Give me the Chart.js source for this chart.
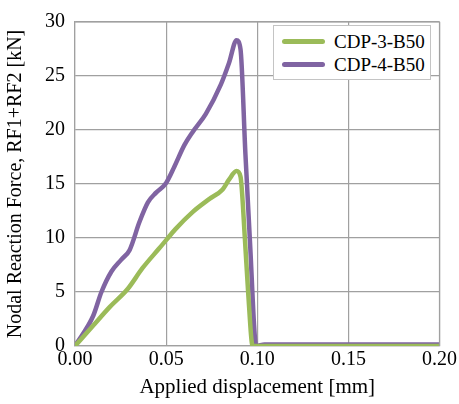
<!DOCTYPE html>
<html>
<head>
<meta charset="utf-8">
<script src="https://cdn.jsdelivr.net/npm/chart.js@4.4.0/dist/chart.umd.min.js"></script>
<style>
    html, body { margin: 0; padding: 0; background: #fff; }
    #wrap { position: relative; width: 459px; height: 404px; }
    #legend {
        position: absolute; left: 273px; top: 25px; width: 158px; height: 55px;
        border: 1.5px solid #c4c4c4; background: #fff;
        font-family: 'Liberation Serif', 'Times New Roman', serif; font-size: 19px; color: #000;
        box-sizing: border-box; padding-top: 4px;
    }
    .row { height: 23px; display: flex; align-items: center; }
    .swatch { width: 43px; height: 5px; border-radius: 3px; margin-left: 8px; margin-right: 9px; }
</style>
</head>
<body>
<div id="wrap">
    <canvas id="chart" width="459" height="404"></canvas>
    <div id="legend"></div>
</div>
<script>
const seriesNames = ['CDP-3-B50', 'CDP-4-B50'];
const seriesColors = ['#9bbb59', '#8064a2'];

// CDP-3-B50
const dispA = [0, 0.010, 0.019, 0.029, 0.037, 0.046, 0.050, 0.055, 0.0645, 0.0736, 0.081, 0.0845, 0.0886, 0.0908, 0.0932, 0.095, 0.0975, 0.12, 0.2];
const forceA = [0, 1.9, 3.6, 5.3, 7.2, 9.0, 9.8, 10.8, 12.4, 13.6, 14.5, 15.4, 16.2, 15.7, 10.0, 5.0, 0, 0, 0];

// CDP-4-B50
const dispB = [0, 0.010, 0.0145, 0.020, 0.0254, 0.030, 0.0354, 0.040, 0.0445, 0.050, 0.0545, 0.060, 0.0645, 0.0718, 0.080, 0.0845, 0.0886, 0.0908, 0.0935, 0.0959, 0.0995, 0.104, 0.2];
const forceB = [0, 2.8, 5.0, 6.9, 8.0, 8.9, 11.5, 13.3, 14.2, 15.1, 16.6, 18.6, 19.8, 21.5, 24.2, 26.2, 28.3, 27.5, 17.8, 10.0, 0, 0.15, 0.15];

const xTicks = [0, 0.05, 0.10, 0.15, 0.20];

function toPoints(xs, ys) {
    return xs.map((x, i) => ({ x: x, y: ys[i] }));
}

const family = "'Liberation Serif', 'Times New Roman', serif";
const gridColor = '#a0a0a0';

function drawChart() {
    const ctx = document.getElementById('chart').getContext('2d');
    new Chart(ctx, {
        type: 'scatter',
        data: {
            datasets: [
                { label: seriesNames[0], data: toPoints(dispA, forceA), borderColor: seriesColors[0], backgroundColor: seriesColors[0] },
                { label: seriesNames[1], data: toPoints(dispB, forceB), borderColor: seriesColors[1], backgroundColor: seriesColors[1] }
            ].map(d => Object.assign(d, { showLine: true, borderWidth: 4.5, pointRadius: 0, cubicInterpolationMode: 'monotone', borderCapStyle: 'round', borderJoinStyle: 'round' }))
        },
        options: {
            responsive: false,
            animation: false,
            font: { family: family },
            layout: { padding: { top: 16, right: 17, left: 0, bottom: 0 } },
            plugins: { legend: { display: false }, tooltip: { enabled: false } },
            scales: {
                x: {
                    type: 'linear', min: 0, max: 0.2,
                    afterBuildTicks: axis => { axis.ticks = xTicks.map(v => ({ value: v })); },
                    afterFit: axis => { axis.height = 58; },
                    ticks: { font: { family: family, size: 20 }, color: '#000', padding: 2, maxRotation: 0, callback: v => v.toFixed(2) },
                    grid: { color: gridColor, lineWidth: 1.2, drawTicks: false },
                    border: { color: gridColor, width: 1.2 },
                    title: { display: true, text: 'Applied displacement [mm]', font: { family: family, size: 21 }, color: '#000', padding: { top: 0 } }
                },
                y: {
                    min: 0, max: 30,
                    afterFit: axis => { axis.width = 75; },
                    ticks: { font: { family: family, size: 20 }, color: '#000', stepSize: 5, padding: 10 },
                    grid: { color: gridColor, lineWidth: 1.2, drawTicks: false },
                    border: { color: gridColor, width: 1.2 },
                    title: { display: true, text: 'Nodal Reaction Force, RF1+RF2 [kN]', font: { family: family, size: 20 }, color: '#000', padding: { bottom: 0 } }
                }
            }
        },
        plugins: [{
            id: 'frame',
            afterDraw(chart) {
                const a = chart.chartArea, c = chart.ctx;
                c.save();
                c.strokeStyle = gridColor;
                c.lineWidth = 1.2;
                c.beginPath();
                c.moveTo(a.left, a.top); c.lineTo(a.right, a.top); c.lineTo(a.right, a.bottom);
                c.stroke();
                c.restore();
            }
        }]
    });
}

const legend = document.getElementById('legend');
seriesNames.forEach((name, i) => {
    const row = document.createElement('div');
    row.className = 'row';
    row.innerHTML = '<span class="swatch" style="background:' + seriesColors[i] + '"></span><span>' + name + '</span>';
    legend.appendChild(row);
});

document.fonts.load("20px 'Liberation Serif'").then(drawChart, drawChart);
</script>
</body>
</html>
